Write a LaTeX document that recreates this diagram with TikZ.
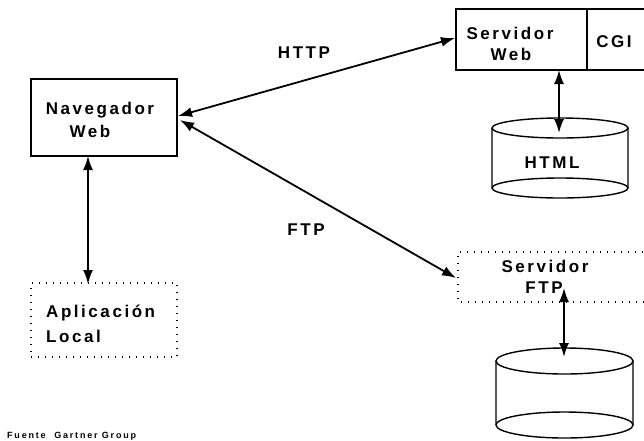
\documentclass[tikz,border=0pt]{standalone}
\usepackage{fontspec}
\setmainfont{Liberation Sans}
\newfontfamily\lbl{Liberation Sans}[LetterSpace=15]
\newfontfamily\srcfont{Liberation Sans}[LetterSpace=20]
\usetikzlibrary{arrows.meta}
\begin{document}
\begin{tikzpicture}[x=1pt,y=-1pt,
  txt/.style={font=\lbl\bfseries\fontsize{17}{19}\selectfont, inner sep=0pt, anchor=center},
  solidbox/.style={draw, line width=1.4pt},
  dotbox/.style={draw, line width=1.8pt, dash pattern=on 1.4pt off 5.6pt},
  conn/.style={line width=1.8pt, {Latex[length=14pt,width=10pt]}-{Latex[length=14pt,width=10pt]}},
  db/.style={line width=1.4pt}]
\useasboundingbox (0,0) rectangle (644,440);
% Navegador Web
\node[solidbox, minimum width=146pt, minimum height=77pt, inner sep=0pt] (nav) at (104,117.5) {};
\node[txt] (navt1) at (100,110) {Navegador};
\node[txt] (navt2) at (90,131) {Web};
% Aplicacion Local
\node[dotbox, minimum width=146pt, minimum height=74pt, inner sep=0pt] (app) at (104,320) {};
\node[txt, anchor=west] (appt1) at (46,313) {Aplicación};
\node[txt, anchor=west] (appt2) at (46,336) {Local};
% Servidor Web + CGI
\coordinate (swtl) at (456,9);
\coordinate (swbl) at (456,70);
\draw[solidbox] (646,9) -- (swtl) -- (swbl) -- (646,70);
\draw[solidbox] (587,9) -- (587,70);
\node[txt] (swt1) at (510,33) {Servidor};
\node[txt] (swt2) at (511,54) {Web};
\node[txt] (cgi) at (614,42) {CGI};
% Servidor FTP
\coordinate (sftl) at (458,252);
\coordinate (sfbl) at (458,302);
\draw[dotbox] (650,252) -- (sftl) -- (sfbl) -- (650,302);
\node[txt] (sft1) at (545,266) {Servidor};
\node[txt] (sft2) at (544,288) {FTP};
% Cylinder HTML
\draw[db] (492,128) -- (492,188) arc[start angle=180,end angle=360,x radius=68pt,y radius=10pt] -- (628,128);
\draw[db] (560,128) ellipse[x radius=68pt,y radius=10pt];
\draw[db] (628,188) arc[start angle=0,end angle=180,x radius=68pt,y radius=10pt];
\node[txt] (html) at (552,163) {HTML};
% Cylinder FTP
\draw[db] (496,361) -- (496,425) arc[start angle=180,end angle=360,x radius=68.5pt,y radius=13pt] -- (633,361);
\draw[db] (564.5,361) ellipse[x radius=68.5pt,y radius=13pt];
\draw[db] (633,425) arc[start angle=0,end angle=180,x radius=68.5pt,y radius=13pt];
% connector end points
\coordinate (navR1) at (178,116);
\coordinate (navR2) at (180,120);
\coordinate (swL) at (455,38);
\coordinate (sfL) at (456,278);
\coordinate (navB) at (88,156);
\coordinate (appT) at (88,284);
\coordinate (swB) at (559,70);
\coordinate (db1T) at (559,133);
\coordinate (sfIn) at (564,288);
\coordinate (db2T) at (564,357);
% connectors
\draw[conn] (navR1) -- (swL);
\draw[conn] (navR2) -- (sfL);
\draw[conn] (navB) -- (appT);
\draw[conn] (swB) -- (db1T);
\draw[conn] (sfIn) -- (db2T);
% labels
\node[txt] (http) at (304,53) {HTTP};
\node[txt] (ftp) at (306,230) {FTP};
\node[font=\srcfont\bfseries\fontsize{9}{10}\selectfont, anchor=west, inner sep=0pt] (src) at (7,436) {Fuente\ \ Gartner Group};
\end{tikzpicture}
\end{document}
